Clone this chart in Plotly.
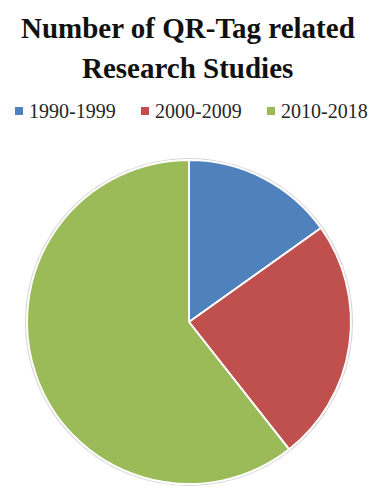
import plotly.graph_objects as go

# Studies per decade
periods = ["1990-1999", "2000-2009", "2010-2018"]
studies = [5, 8, 20]
colors = ["#4F81BD", "#C0504D", "#9BBB59"]

W, H = 375, 490

# Pie area in pixels (left, right, bottom, top)
px_l, px_r, px_b, px_t = 27, 351, 6, 330
halo = 2

fig = go.Figure()

# faint grey rim behind the pie
fig.add_trace(
    go.Pie(
        labels=["rim"],
        values=[1],
        textinfo="none",
        hoverinfo="skip",
        showlegend=False,
        marker=dict(colors=["#D6D6D6"], line=dict(width=0)),
        domain=dict(x=[(px_l - halo) / W, (px_r + halo) / W],
                    y=[(px_b - halo) / H, (px_t + halo) / H]),
    )
)

fig.add_trace(
    go.Pie(
        labels=periods,
        values=studies,
        sort=False,
        direction="clockwise",
        rotation=0,
        textinfo="none",
        hoverinfo="label+value",
        showlegend=False,
        marker=dict(colors=colors, line=dict(color="white", width=2)),
        domain=dict(x=[px_l / W, px_r / W], y=[px_b / H, px_t / H]),
    )
)

title_font = dict(family="Liberation Serif", size=29, color="#111111")
fig.add_annotation(text="<b>Number of QR-Tag related</b>", x=0.5, y=1 - 28 / H,
                   xref="paper", yref="paper", showarrow=False, font=title_font,
                   xanchor="center", yanchor="middle")
fig.add_annotation(text="<b>Research Studies</b>", x=0.5, y=1 - 68 / H,
                   xref="paper", yref="paper", showarrow=False, font=title_font,
                   xanchor="center", yanchor="middle")

# Legend row: small colour square followed by the period label
legend_square_x = [15, 141, 267]   # left edge of each square, px
legend_y = 111                      # row centre, px from top
sq = 8
for name, col, x0 in zip(periods, colors, legend_square_x):
    fig.add_shape(type="rect", xref="paper", yref="paper",
                  x0=x0 / W, x1=(x0 + sq) / W,
                  y0=1 - (legend_y + sq / 2) / H, y1=1 - (legend_y - sq / 2) / H,
                  fillcolor=col, line=dict(width=0))
    fig.add_annotation(text=name, x=(x0 + sq + 4) / W, y=1 - legend_y / H,
                       xref="paper", yref="paper", showarrow=False,
                       xanchor="left", yanchor="middle",
                       font=dict(family="Liberation Serif", size=20, color="#262626"))

fig.update_layout(
    width=W,
    height=H,
    margin=dict(l=0, r=0, t=0, b=0),
    paper_bgcolor="white",
    plot_bgcolor="white",
    showlegend=False,
)

fig.write_html("out.html")
